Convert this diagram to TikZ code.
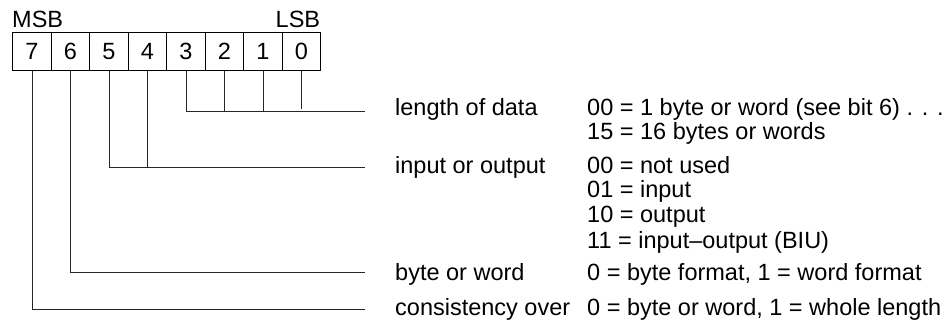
\documentclass[tikz,border=0pt]{standalone}
\usepackage{fontspec}
\setmainfont{Liberation Sans}
\begin{document}
\begin{tikzpicture}[x=1pt,y=-1pt,
  font=\fontsize{23.5}{28}\selectfont,
  bitcell/.style={draw, line width=0.9pt, minimum width=38.5pt, minimum height=38pt, inner sep=0pt, anchor=north west},
  txt/.style={anchor=base west, inner sep=0pt},
  conn/.style={line width=0.9pt, draw=black!85}]
\useasboundingbox (0,0) rectangle (951,322);
% register cells
\node[bitcell] (b7) at (12.3,32) {7};
\node[bitcell] (b6) at (50.8,32) {6};
\node[bitcell] (b5) at (89.3,32) {5};
\node[bitcell] (b4) at (127.8,32) {4};
\node[bitcell] (b3) at (166.3,32) {3};
\node[bitcell] (b2) at (204.8,32) {2};
\node[bitcell] (b1) at (243.3,32) {1};
\node[bitcell] (b0) at (281.8,32) {0};
\node[anchor=base west, inner sep=0pt] (msb) at (12,27) {MSB};
\node[anchor=base east, inner sep=0pt] (lsb) at (320.3,27) {LSB};
% end points
\coordinate (e1) at (365,111.7);
\coordinate (e2) at (365,167.7);
\coordinate (e3) at (365,272.7);
\coordinate (e4) at (365,309);
% connectors
\draw[conn] (b3.south) |- (e1);
\draw[conn] (b2.south) -- (b2.south |- e1);
\draw[conn] (b1.south) -- (b1.south |- e1);
\draw[conn] (b0.south) -- ++(0,38.5);
\draw[conn] (b5.south) |- (e2);
\draw[conn] (b4.south) -- (b4.south |- e2);
\draw[conn] (b6.south) |- (e3);
\draw[conn] (b7.south) |- (e4);
% labels
\node[txt] (l1) at (395,115) {length of data};
\node[txt] (l2) at (395,173) {input or output};
\node[txt] (l3) at (395,280) {byte or word};
\node[txt] (l4) at (395,315) {consistency over};
% values
\node[txt] (v1) at (587,115) {00 = 1 byte or word (see bit 6) . . .};
\node[txt] (v2) at (587,139) {15 = 16 bytes or words};
\node[txt] (v3) at (587,173) {00 = not used};
\node[txt] (v4) at (587,197) {01 = input};
\node[txt] (v5) at (587,222) {10 = output};
\node[txt] (v6) at (587,248) {11 = input–output (BIU)};
\node[txt] (v7) at (587,280) {0 = byte format, 1 = word format};
\node[txt] (v8) at (587,315) {0 = byte or word, 1 = whole length};
\end{tikzpicture}
\end{document}
